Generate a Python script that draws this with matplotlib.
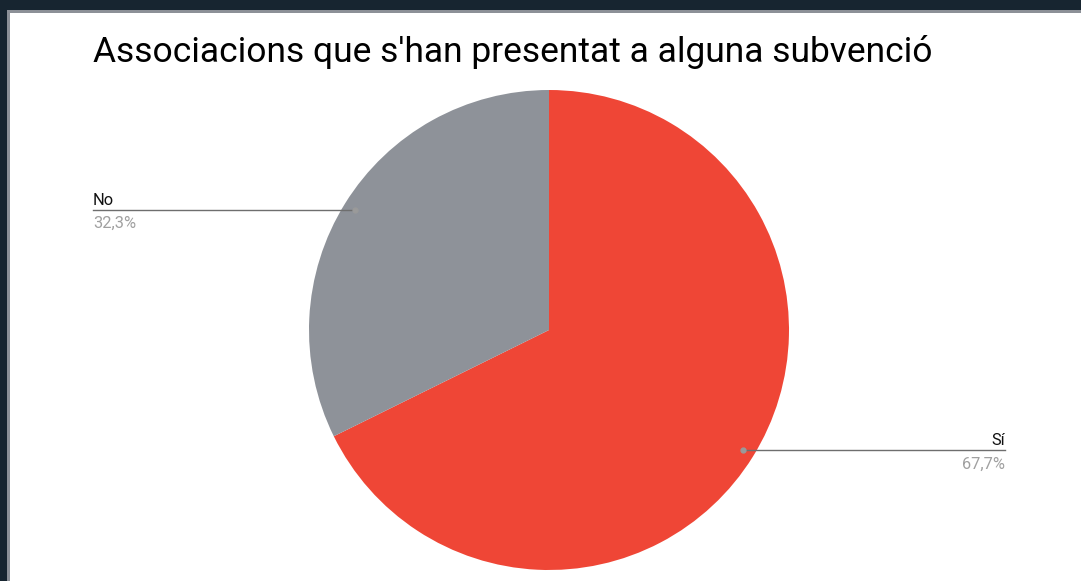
import matplotlib
matplotlib.use("Agg")
import matplotlib.pyplot as plt
import numpy as np
from matplotlib.patches import Rectangle

title = "Associacions que s'han presentat a alguna subvenció"
labels = ["Sí", "No"]
values = [67.7, 32.3]
pct_labels = ["67,7%", "32,3%"]
colors = ["#EF4636", "#8E9299"]

W, H = 1081, 581
fig = plt.figure(figsize=(W / 100, H / 100), dpi=100)
fig.patch.set_facecolor("#172530")

def px(x, y):
    return x / W, 1 - y / H

# white panel with grey border
fig.patches.append(Rectangle((7 / W, 0), (W - 7) / W, (H - 10) / H,
                             transform=fig.transFigure, facecolor="#8C9097",
                             edgecolor="none", zorder=-2))
fig.patches.append(Rectangle((10 / W, 0), (W - 10) / W, (H - 13) / H,
                             transform=fig.transFigure, facecolor="white",
                             edgecolor="none", zorder=-1))

fig.text(*px(93, 62), title, fontsize=25.5, family="Roboto", color="#000000",
         ha="left", va="baseline")

cx, cy, r = 549, 330, 240
ax = fig.add_axes([(cx - r) / W, (H - cy - r) / H, 2 * r / W, 2 * r / H])
ax.set_zorder(1)
wedges, _ = ax.pie(values, colors=colors, startangle=90, counterclock=False,
                   radius=1, wedgeprops=dict(linewidth=0))
ax.set_xlim(-1, 1)
ax.set_ylim(-1, 1)
ax.set_aspect("equal")
ax.axis("off")

for w, lab, pct in zip(wedges, labels, pct_labels):
    mid = np.deg2rad((w.theta1 + w.theta2) / 2)
    dx, dy = 0.95 * np.cos(mid), 0.95 * np.sin(mid)
    dpx = cx + dx * r
    dpy = cy - dy * r
    if dx < 0:
        xend = 93
        ha = "left"
    else:
        xend = 1005
        ha = "right"
    x0, y0 = px(dpx, dpy)
    x1, _ = px(xend, dpy)
    fig.add_artist(plt.Line2D([x0, x1], [y0, y0], transform=fig.transFigure,
                              color="#6E6E6E", lw=1.0, zorder=3))
    fig.add_artist(plt.Line2D([x0], [y0], transform=fig.transFigure,
                              marker="o", ms=3.5, color="#9A9A9A", lw=0, zorder=4))
    fig.text(x1, px(0, dpy - 5)[1], lab, fontsize=11.8, family="Roboto",
             color="#111111", ha=ha, va="baseline")
    fig.text(x1, px(0, dpy + 18)[1], pct, fontsize=11.8, family="Roboto",
             color="#A0A0A0", ha=ha, va="baseline")

fig.savefig("out.png", dpi=100, facecolor=fig.get_facecolor())
